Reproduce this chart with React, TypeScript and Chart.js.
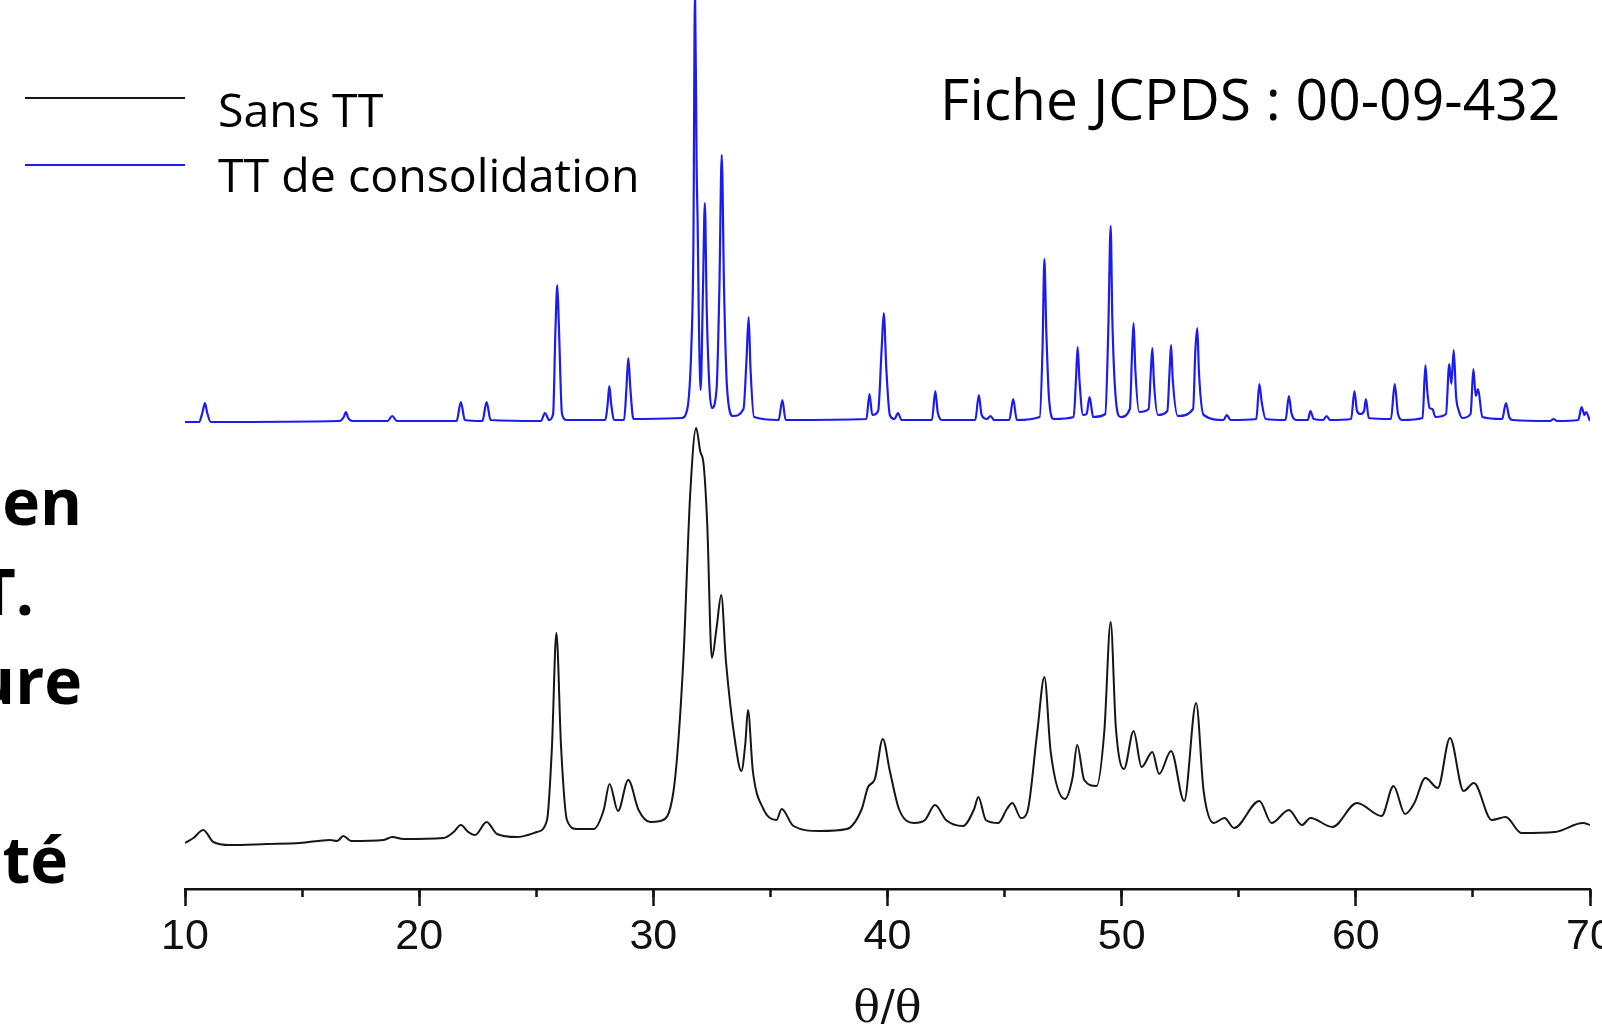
import React, { useEffect, useRef } from "react";
import { Chart, registerables } from "chart.js";

Chart.register(...registerables);

// ---- Data (2θ in degrees, intensity in arbitrary units) ----
const sansTTTheta = [
  10.0, 10.36, 10.78, 11.21, 11.92, 13.49, 14.91, 16.2, 16.5, 16.76, 17.1, 18.48, 18.85, 19.33,
  21.04, 21.47, 21.78, 22.1, 22.39, 22.88, 23.32, 24.17, 25.03, 25.46, 25.67, 25.86, 26.06, 26.31,
  26.74, 27.45, 27.88, 28.13, 28.49, 28.93, 29.37, 29.87, 30.3, 30.85, 31.28, 31.57, 31.83, 32.0,
  32.15, 32.3, 32.5, 32.7, 32.9, 33.1, 33.5, 33.76, 33.93, 34.04, 34.25, 34.7, 35.26, 35.48,
  35.98, 37.1, 38.26, 38.9, 39.17, 39.46, 39.8, 40.1, 40.49, 41.13, 41.6, 42.03, 42.5, 43.22,
  43.7, 43.88, 44.2, 44.73, 45.1, 45.33, 45.7, 45.97, 46.4, 46.7, 46.97, 47.57, 47.9, 48.1,
  48.4, 48.93, 49.26, 49.53, 49.75, 50.1, 50.51, 50.85, 51.31, 51.6, 52.11, 52.67, 53.18, 53.5,
  53.93, 54.39, 54.8, 55.88, 56.4, 57.14, 57.7, 58.06, 59.0, 60.05, 61.1, 61.61, 62.1, 62.5,
  62.97, 63.5, 64.02, 64.6, 65.04, 65.8, 66.4, 67.07, 68.5, 69.7, 70.0,
];
const sansTTIntensity = [
  46, 51, 59, 47, 44, 45, 46, 49, 48, 53, 48, 49, 52, 50,
  51, 57, 64, 57, 54, 67, 55, 52, 57, 69, 142, 256, 142, 69,
  60, 60, 79, 105, 78, 109, 79, 67, 68, 96, 228, 393, 461, 438,
  424, 366, 231, 261, 294, 228, 146, 118, 146, 179, 118, 80, 69, 80,
  63, 58, 60, 80, 102, 110, 150, 118, 80, 66, 69, 84, 69, 63,
  80, 92, 69, 66, 80, 86, 71, 77, 158, 212, 137, 90, 111, 144,
  109, 103, 158, 267, 162, 120, 158, 122, 137, 115, 138, 88, 186, 98,
  66, 71, 61, 88, 66, 79, 64, 71, 62, 86, 73, 103, 75, 86,
  111, 101, 151, 98, 106, 69, 72, 56, 57, 66, 64,
];

const consolidationTheta = [
  10.0, 10.6, 10.75, 10.85, 10.95, 11.1, 16.6, 16.78, 16.87, 16.97, 17.15, 18.65, 18.85, 19.05,
  21.6, 21.78, 21.95, 22.7, 22.88, 23.05, 25.2, 25.37, 25.55, 25.72, 25.82, 25.9, 25.97, 26.1,
  26.3, 27.95, 28.05, 28.12, 28.2, 28.32, 28.75, 28.85, 28.93, 29.02, 29.15, 31.2, 31.45, 31.62,
  31.71, 31.78, 31.85, 31.89, 31.95, 32.02, 32.12, 32.2, 32.28, 32.4, 32.5, 32.7, 32.82, 32.92,
  33.02, 33.15, 33.4, 33.85, 33.98, 34.07, 34.15, 34.3, 35.35, 35.51, 35.65, 39.1, 39.23, 39.35,
  39.6, 39.75, 39.84, 39.95, 40.1, 40.3, 40.45, 40.6, 41.9, 42.04, 42.15, 42.35, 43.75, 43.9,
  44.02, 44.25, 44.4, 44.55, 45.2, 45.37, 45.52, 46.5, 46.62, 46.7, 46.78, 46.9, 47.1, 47.95,
  48.05, 48.12, 48.2, 48.35, 48.5, 48.63, 48.78, 49.3, 49.43, 49.53, 49.6, 49.75, 49.95, 50.35,
  50.45, 50.51, 50.58, 50.75, 51.15, 51.25, 51.31, 51.38, 51.55, 51.95, 52.05, 52.11, 52.18, 52.4,
  53.05, 53.15, 53.23, 53.3, 53.5, 54.35, 54.49, 54.65, 55.75, 55.88, 55.98, 56.15, 57.0, 57.14,
  57.25, 57.45, 57.95, 58.06, 58.2, 58.6, 58.75, 58.9, 59.8, 59.94, 60.05, 60.2, 60.35, 60.43,
  60.55, 61.5, 61.66, 61.8, 62.0, 62.85, 62.97, 63.05, 63.15, 63.27, 63.4, 63.85, 63.99, 64.08,
  64.18, 64.28, 64.4, 64.55, 64.9, 65.02, 65.12, 65.22, 65.4, 66.25, 66.41, 66.55, 66.7, 68.3,
  68.44, 68.6, 69.5, 69.64, 69.76, 69.83, 70.0,
];
const consolidationIntensity = [
  467, 467, 477, 486, 476, 467, 468, 472, 477, 471, 468, 468, 473, 468,
  468, 487, 469, 468, 487, 469, 468, 476, 469, 475, 560, 604, 560, 475,
  469, 469, 485, 503, 485, 469, 469, 500, 531, 500, 470, 471, 480, 540,
  642, 900, 719, 669, 560, 499, 600, 686, 580, 500, 481, 500, 600, 734,
  600, 500, 473, 480, 530, 572, 520, 472, 469, 489, 469, 470, 495, 474,
  478, 540, 576, 520, 474, 470, 476, 469, 469, 498, 476, 469, 469, 494,
  474, 470, 473, 469, 469, 490, 469, 472, 540, 630, 559, 490, 470, 472,
  510, 542, 508, 474, 475, 492, 472, 475, 560, 663, 571, 490, 472, 480,
  540, 566, 521, 477, 480, 520, 541, 506, 474, 478, 520, 544, 510, 473,
  480, 540, 561, 517, 474, 469, 474, 469, 470, 505, 487, 470, 469, 493,
  476, 469, 469, 478, 470, 469, 473, 469, 470, 498, 478, 475, 478, 490,
  471, 470, 505, 475, 469, 471, 524, 498, 481, 480, 472, 475, 525, 505,
  539, 493, 478, 471, 475, 520, 493, 500, 472, 470, 486, 472, 469, 468,
  470, 468, 469, 482, 474, 477, 468,
];

const xMin = 10;
const xMax = 70;
const majorStep = 10;
const minorStep = 5;
const yMax = 889;

const seriesLabels = ["Sans TT", "TT de consolidation"];
const seriesColors = ["#161616", "#1c1cf0"];
const axisTitle = "θ/θ";
const cardText = "Fiche JCPDS : 00-09-432";
const sideFragments = ["en", "T.", "ure", "ité"];

const W = 1602;
const H = 1024;

export default function App() {
  const ref = useRef<HTMLCanvasElement | null>(null);

  useEffect(() => {
    if (!ref.current) return;
    const toPoints = (xs: number[], ys: number[]) => xs.map((x, i) => ({ x, y: ys[i] }));
    const chart = new Chart(ref.current, {
      type: "line",
      data: {
        datasets: [
          {
            label: seriesLabels[0],
            data: toPoints(sansTTTheta, sansTTIntensity),
            borderColor: seriesColors[0],
            borderWidth: 2,
            pointRadius: 0,
            fill: false,
            cubicInterpolationMode: "monotone",
            xAxisID: "x",
            yAxisID: "y",
          },
          {
            label: seriesLabels[1],
            data: toPoints(consolidationTheta, consolidationIntensity),
            borderColor: seriesColors[1],
            borderWidth: 2.2,
            pointRadius: 0,
            fill: false,
            cubicInterpolationMode: "monotone",
            xAxisID: "x",
            yAxisID: "y",
          },
        ],
      },
      options: {
        animation: false,
        responsive: false,
        maintainAspectRatio: false,
        events: [],
        layout: { padding: { left: 185, right: 30, top: 0, bottom: 0 } },
        plugins: { legend: { display: false }, tooltip: { enabled: false }, title: { display: false } },
        scales: {
          x: {
            type: "linear",
            position: "bottom",
            min: xMin,
            max: xMax,
            ticks: {
              stepSize: majorStep,
              autoSkip: false,
              maxRotation: 0,
              padding: 5,
              color: "#111",
              font: { family: "'Liberation Sans', Arial, sans-serif", size: 43 },
            },
            grid: {
              drawOnChartArea: false,
              drawTicks: true,
              tickLength: 17,
              tickWidth: 2.5,
              tickColor: "#111",
            },
            border: { display: true, color: "#111", width: 2.5 },
            title: {
              display: true,
              text: axisTitle,
              color: "#111",
              font: { family: "'DejaVu Serif', 'Liberation Serif', serif", size: 44, lineHeight: 0.6 },
              padding: { top: 30, bottom: 0 },
            },
          },
          x2: {
            type: "linear",
            axis: "x",
            position: { y: 0 },
            min: xMin,
            max: xMax,
            ticks: { display: false, stepSize: minorStep },
            grid: { drawOnChartArea: false, drawTicks: true, tickLength: 8, tickWidth: 2.5, tickColor: "#111" },
            border: { display: false },
          },
          y: { type: "linear", min: 0, max: yMax, display: false },
        },
      },
    } as any);
    return () => chart.destroy();
  }, []);

  const textBase: React.CSSProperties = {
    position: "absolute",
    whiteSpace: "nowrap",
    lineHeight: 1,
    color: "#000",
    fontFamily: "'Open Sans', sans-serif",
  };

  return (
    <div style={{ position: "absolute", left: 0, top: 0, width: W, height: H, overflow: "hidden", background: "#fff" }}>
      <canvas ref={ref} width={1620} height={H} style={{ position: "absolute", left: 0, top: 0, display: "block" }} />
      {/* legend */}
      <div style={{ position: "absolute", left: 25, top: 97, width: 160, height: 1.5, background: seriesColors[0] }} />
      <div style={{ position: "absolute", left: 25, top: 164, width: 160, height: 1.5, background: seriesColors[1] }} />
      <div style={{ ...textBase, left: 218, top: 127.5 - 0.888 * 46.5, fontSize: 46.5 }}>{seriesLabels[0]}</div>
      <div style={{ ...textBase, left: 218, top: 192 - 0.888 * 46.5, fontSize: 46.5 }}>{seriesLabels[1]}</div>
      {/* card reference */}
      <div style={{ ...textBase, left: 940, top: 121 - 0.888 * 57, fontSize: 57 }}>{cardText}</div>
      {/* cropped slide text on the left */}
      <div style={{ ...textBase, right: W - 82, top: 526 - 0.888 * 64, fontSize: 64, fontWeight: 700, textAlign: "right" }}>{sideFragments[0]}</div>
      <div style={{ ...textBase, right: W - 34, top: 616 - 0.888 * 64, fontSize: 64, fontWeight: 700, textAlign: "right" }}>{sideFragments[1]}</div>
      <div style={{ ...textBase, right: W - 82, top: 705 - 0.888 * 64, fontSize: 64, fontWeight: 700, textAlign: "right" }}>{sideFragments[2]}</div>
      <div style={{ ...textBase, right: W - 68, top: 884 - 0.888 * 64, fontSize: 64, fontWeight: 700, textAlign: "right" }}>{sideFragments[3]}</div>
    </div>
  );
}
